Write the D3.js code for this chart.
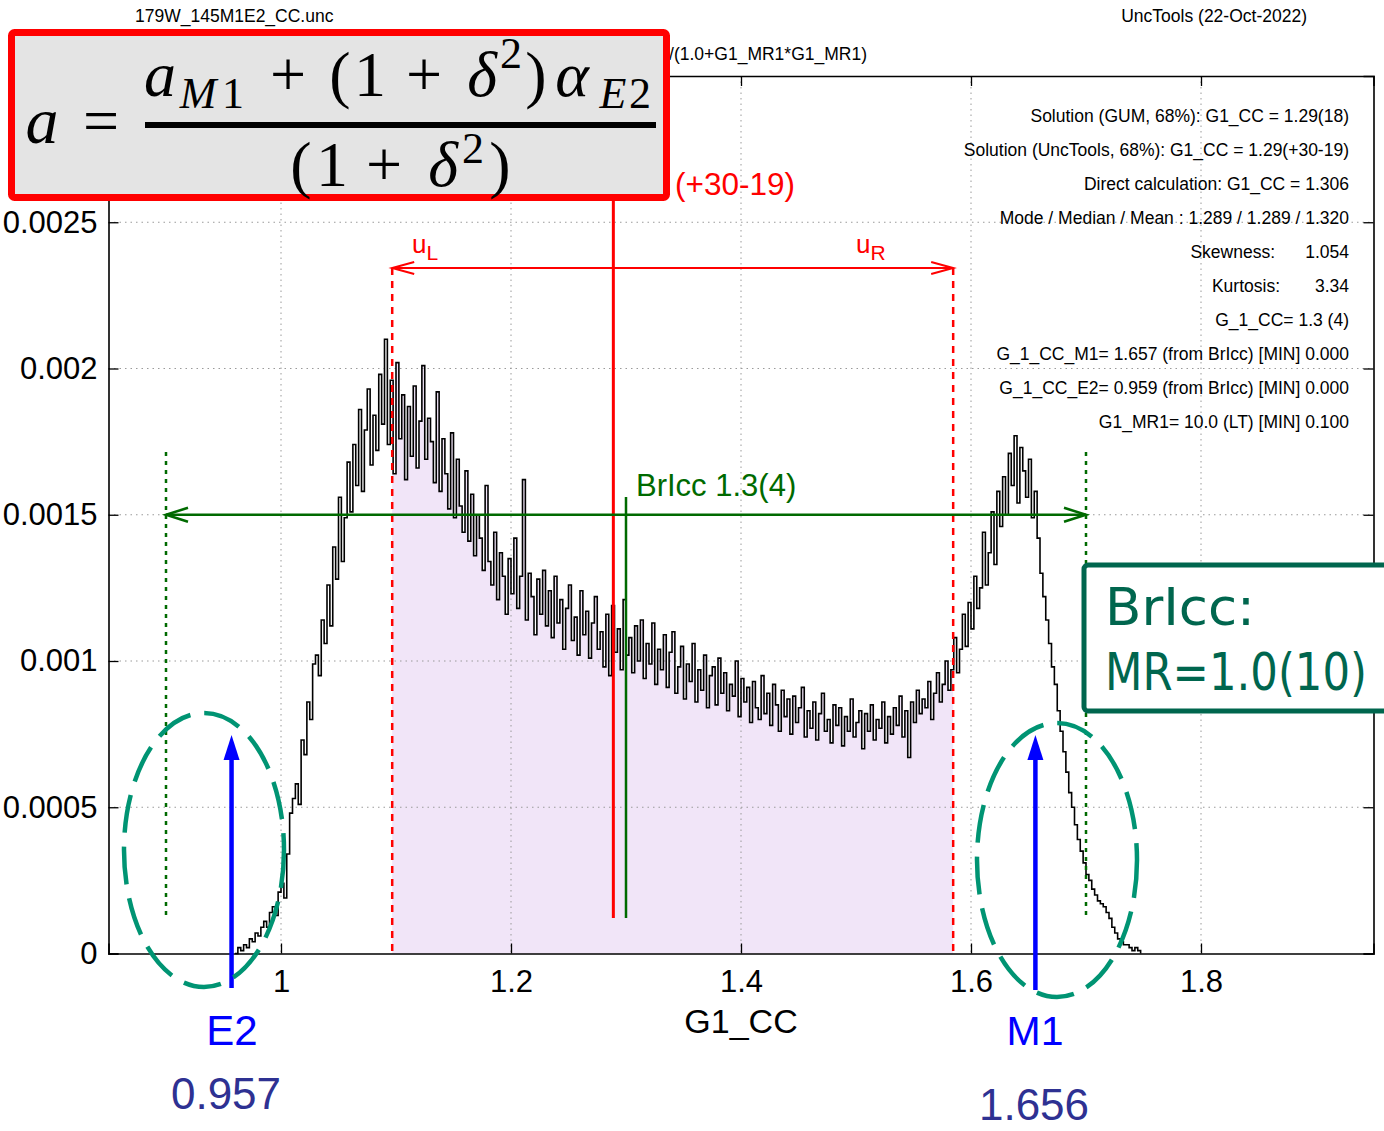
<!DOCTYPE html>
<html>
<head>
<meta charset="utf-8">
<script src="https://cdn.jsdelivr.net/npm/d3@7"></script>
<style>
  body { margin: 0; background: #fff; }
  svg { display: block; }
</style>
</head>
<body>
<script>
// histogram of G1_CC (bin start, bin width, density in units of 1e-4)
var binStart = 0.960;
var binWidth = 0.0025;
var densityUnit = 1e-4;
var density = [
  0.0, 0.2, 0.1, 0.3, 0.2, 0.5, 0.4, 0.7, 0.6, 0.9,
  1.1, 0.9, 1.4, 1.6, 1.3, 2.1, 2.4, 1.9, 3.4, 4.8,
  5.3, 5.8, 5.1, 7.3, 6.8, 8.6, 8.0, 9.9, 10.2, 9.5,
  11.4, 10.6, 12.6, 11.2, 13.9, 12.8, 15.6, 13.4, 14.9, 16.8,
  15.1, 17.4, 16.0, 18.6, 15.8, 17.9, 19.3, 16.7, 18.4, 17.2,
  19.8, 18.1, 21.0, 17.4, 19.6, 16.4, 20.2, 17.6, 19.1, 16.2,
  18.7, 17.0, 19.4, 16.6, 18.2, 20.1, 16.9, 18.3, 17.5, 16.1,
  19.2, 15.8, 17.6, 16.4, 15.2, 17.8, 14.9, 16.9, 15.3, 14.4,
  16.5, 14.1, 15.7, 13.6, 15.0, 14.2, 13.1, 16.0, 13.4, 12.6,
  14.4, 12.1, 13.7, 12.9, 11.6, 13.5, 12.3, 14.2, 11.8, 12.9,
  16.2, 11.4, 13.0, 12.2, 10.9, 12.8, 11.6, 13.1, 11.2, 12.4,
  10.8, 12.9, 11.3, 12.1, 10.4, 11.8, 12.6, 10.7, 11.5, 10.2,
  12.4, 10.9, 11.7, 10.1, 11.3, 12.2, 10.4, 11.0, 9.8, 11.6,
  9.5, 11.9, 10.3, 11.1, 9.7, 12.1, 10.2, 10.8, 9.6, 11.2,
  10.0, 11.4, 9.4, 10.6, 9.9, 11.3, 9.2, 10.4, 9.7, 10.9,
  9.1, 10.3, 11.0, 8.9, 9.8, 10.5, 8.7, 9.9, 9.3, 10.6,
  8.6, 9.7, 9.0, 10.2, 8.4, 9.5, 9.8, 8.5, 10.1, 8.9,
  9.6, 8.3, 9.2, 8.8, 10.0, 8.1, 9.4, 8.6, 9.1, 7.9,
  9.3, 8.4, 8.0, 9.5, 8.2, 8.9, 7.8, 9.2, 8.5, 7.6,
  9.0, 8.1, 8.7, 7.5, 8.8, 7.9, 8.4, 9.1, 7.4, 8.3,
  7.7, 8.6, 7.3, 8.2, 8.9, 7.6, 8.0, 7.2, 8.5, 7.8,
  8.4, 7.1, 8.1, 7.6, 8.7, 7.4, 7.9, 8.3, 7.0, 8.2,
  7.6, 8.5, 7.3, 8.0, 7.7, 8.6, 7.2, 8.1, 7.5, 8.4,
  7.8, 8.8, 7.4, 8.3, 6.7, 8.6, 7.9, 9.0, 8.2, 8.7,
  8.4, 9.3, 8.0, 8.9, 9.6, 8.6, 9.2, 10.0, 9.0, 9.7,
  10.8, 9.6, 10.4, 11.6, 10.5, 12.0, 11.1, 12.9, 11.8, 12.5,
  14.4, 12.6, 13.7, 15.1, 13.3, 15.8, 14.6, 16.3, 15.0, 17.1,
  16.0, 17.7, 15.4, 17.3, 16.5, 15.6, 16.9, 14.9, 15.8, 14.2,
  13.0, 12.2, 11.4, 10.6, 9.8, 9.2, 8.3, 7.6, 6.9, 6.2,
  5.5, 5.0, 4.4, 3.9, 3.5, 3.1, 2.7, 2.5, 2.2, 2.0,
  1.8, 1.7, 1.6, 1.4, 1.2, 0.9, 0.7, 0.5, 0.4, 0.3,
  0.3, 0.2, 0.1, 0.2, 0.1
];

var xTicks = [1, 1.2, 1.4, 1.6, 1.8];
var xTickLabels = ["1", "1.2", "1.4", "1.6", "1.8"];
var yTicks = [0, 0.0005, 0.001, 0.0015, 0.002, 0.0025];
var yTickLabels = ["0", "0.0005", "0.001", "0.0015", "0.002", "0.0025"];

// marker values
var uncLow = 1.0967, uncHigh = 1.5845, modeValue = 1.289;
var briccValue = 1.300, briccLow = 0.9, briccHigh = 1.7;
var e2Value = 0.957, m1Value = 1.656;

var statsLines = [
  "Solution (GUM, 68%): G1_CC = 1.29(18)",
  "Solution (UncTools, 68%): G1_CC = 1.29(+30-19)",
  "Direct calculation: G1_CC = 1.306",
  "Mode / Median / Mean : 1.289 / 1.289 / 1.320",
  ["Skewness:", "1.054"],
  ["Kurtosis:", "3.34"],
  "G_1_CC= 1.3 (4)",
  "G_1_CC_M1= 1.657 (from BrIcc) [MIN] 0.000",
  "G_1_CC_E2= 0.959 (from BrIcc) [MIN] 0.000",
  "G1_MR1= 10.0 (LT) [MIN] 0.100"
];

var svgWidth = 1384, svgHeight = 1131;
var sans = "'Liberation Sans', Arial, sans-serif";
var serif = "'Liberation Serif', 'Times New Roman', serif";
var comic = "'Comic Sans MS', 'DejaVu Sans', sans-serif";

var svg = d3.select("body").append("svg")
    .attr("width", svgWidth)
    .attr("height", svgHeight);

var xScale = d3.scaleLinear().domain([0.85, 1.95]).range([108.5, 1373.5]);
var yScale = d3.scaleLinear().domain([0, 0.003]).range([953.5, 76]);

var bins = density.map(function (v, i) {
    return {x: binStart + i * binWidth, v: v * densityUnit};
});
bins.push({x: binStart + density.length * binWidth, v: 0});

// shaded uncertainty interval
svg.append("clipPath").attr("id", "uncClip")
    .append("rect")
    .attr("x", xScale(uncLow)).attr("y", 0)
    .attr("width", xScale(uncHigh) - xScale(uncLow)).attr("height", svgHeight);

var area = d3.area()
    .x(function (d) { return xScale(d.x); })
    .y0(yScale(0))
    .y1(function (d) { return yScale(d.v); })
    .curve(d3.curveStepAfter);

svg.append("path")
    .datum(bins)
    .attr("clip-path", "url(#uncClip)")
    .attr("d", area)
    .attr("fill", "#f1e5f8");

// grid
var grid = svg.append("g").attr("stroke", "#9a9a9a").attr("stroke-width", 1)
    .attr("stroke-dasharray", "1.5,4");
grid.selectAll(".gx").data(xTicks).enter().append("line")
    .attr("x1", function (d) { return xScale(d); })
    .attr("x2", function (d) { return xScale(d); })
    .attr("y1", yScale.range()[1]).attr("y2", yScale(0));
grid.selectAll(".gy").data(yTicks.slice(1)).enter().append("line")
    .attr("x1", xScale.range()[0]).attr("x2", xScale.range()[1])
    .attr("y1", function (d) { return yScale(d); })
    .attr("y2", function (d) { return yScale(d); });

// axes, gnuplot style (ticks inside, mirrored)
var xAxis = d3.axisBottom(xScale).tickValues(xTicks)
    .tickFormat(function (d, i) { return xTickLabels[i]; })
    .tickSize(-10).tickPadding(16);
var yAxis = d3.axisLeft(yScale).tickValues(yTicks)
    .tickFormat(function (d, i) { return yTickLabels[i]; })
    .tickSize(-10).tickPadding(11);

var gx = svg.append("g").attr("transform", "translate(0," + yScale(0) + ")").call(xAxis);
var gy = svg.append("g").attr("transform", "translate(" + xScale.range()[0] + ",0)").call(yAxis);
svg.append("g").attr("transform", "translate(0," + yScale.range()[1] + ")")
    .call(d3.axisTop(xScale).tickValues(xTicks).tickFormat("").tickSize(-10));
svg.append("g").attr("transform", "translate(" + xScale.range()[1] + ",0)")
    .call(d3.axisRight(yScale).tickValues(yTicks).tickFormat("").tickSize(-10));

svg.selectAll(".domain").attr("stroke", "#000").attr("stroke-width", 1.6);
svg.selectAll(".tick line").attr("stroke", "#000").attr("stroke-width", 1.3);
[gx, gy].forEach(function (g) {
    g.selectAll("text").attr("font-family", sans).attr("font-size", 31).attr("fill", "#000");
});

// histogram
var line = d3.line()
    .x(function (d) { return xScale(d.x); })
    .y(function (d) { return yScale(d.v); })
    .curve(d3.curveStepAfter);
svg.append("path")
    .datum(bins)
    .attr("d", line)
    .attr("fill", "none")
    .attr("stroke", "#000")
    .attr("stroke-width", 1.6);

// header texts
svg.append("text").attr("x", 135).attr("y", 22)
    .attr("font-family", sans).attr("font-size", 17.5).text("179W_145M1E2_CC.unc");
svg.append("text").attr("x", 1307).attr("y", 22).attr("text-anchor", "end")
    .attr("font-family", sans).attr("font-size", 17.5).text("UncTools (22-Oct-2022)");
svg.append("text").attr("x", 867).attr("y", 60).attr("text-anchor", "end")
    .attr("font-family", sans).attr("font-size", 17.5).text("/(1.0+G1_MR1*G1_MR1)");

// stats block
var statsTop = 122, statsStep = 34;
statsLines.forEach(function (s, i) {
    var yy = statsTop + i * statsStep;
    if (Array.isArray(s)) {
        svg.append("text").attr("x", i === 4 ? 1275 : 1280).attr("y", yy).attr("text-anchor", "end")
            .attr("font-family", sans).attr("font-size", 17.5).text(s[0]);
        svg.append("text").attr("x", 1349).attr("y", yy).attr("text-anchor", "end")
            .attr("font-family", sans).attr("font-size", 17.5).text(s[1]);
    } else {
        svg.append("text").attr("x", 1349).attr("y", yy).attr("text-anchor", "end")
            .attr("font-family", sans).attr("font-size", 17.5).text(s);
    }
});

// red uncertainty markers
var red = "#ff0000";
[uncLow, uncHigh].forEach(function (v) {
    svg.append("line")
        .attr("x1", xScale(v)).attr("x2", xScale(v))
        .attr("y1", 268).attr("y2", yScale(0))
        .attr("stroke", red).attr("stroke-width", 2.5).attr("stroke-dasharray", "7,6");
});
var arrowY = 268;
svg.append("line").attr("x1", xScale(uncLow)).attr("x2", xScale(uncHigh))
    .attr("y1", arrowY).attr("y2", arrowY).attr("stroke", red).attr("stroke-width", 2);
svg.append("path")
    .attr("d", "M" + (xScale(uncLow) + 22) + "," + (arrowY - 6) + "L" + xScale(uncLow) + "," + arrowY +
        "L" + (xScale(uncLow) + 22) + "," + (arrowY + 6) +
        "M" + (xScale(uncHigh) - 22) + "," + (arrowY - 6) + "L" + xScale(uncHigh) + "," + arrowY +
        "L" + (xScale(uncHigh) - 22) + "," + (arrowY + 6))
    .attr("fill", "none").attr("stroke", red).attr("stroke-width", 2);

var uL = svg.append("text").attr("x", 412).attr("y", 253).attr("fill", red)
    .attr("font-family", sans).attr("font-size", 26);
uL.append("tspan").text("u");
uL.append("tspan").attr("font-size", 21).attr("dy", 7).text("L");
var uR = svg.append("text").attr("x", 856).attr("y", 253).attr("fill", red)
    .attr("font-family", sans).attr("font-size", 26);
uR.append("tspan").text("u");
uR.append("tspan").attr("font-size", 21).attr("dy", 7).text("R");

svg.append("line").attr("x1", xScale(modeValue)).attr("x2", xScale(modeValue))
    .attr("y1", 190).attr("y2", 918).attr("stroke", red).attr("stroke-width", 3);
svg.append("text").attr("x", 675).attr("y", 195).attr("fill", red)
    .attr("font-family", sans).attr("font-size", 31.5).text("(+30-19)");

// green BrIcc markers
var green = "#006a00";
svg.append("line").attr("x1", xScale(briccValue)).attr("x2", xScale(briccValue))
    .attr("y1", 497).attr("y2", 918).attr("stroke", green).attr("stroke-width", 2.5);
svg.append("text").attr("x", 636).attr("y", 496).attr("fill", green)
    .attr("font-family", sans).attr("font-size", 31).text("BrIcc 1.3(4)");
[briccLow, briccHigh].forEach(function (v) {
    svg.append("line").attr("x1", xScale(v)).attr("x2", xScale(v))
        .attr("y1", 452).attr("y2", 918)
        .attr("stroke", green).attr("stroke-width", 2.5).attr("stroke-dasharray", "4,5");
});
var gY = yScale(0.0015);
svg.append("line").attr("x1", xScale(briccLow)).attr("x2", xScale(briccHigh))
    .attr("y1", gY).attr("y2", gY).attr("stroke", green).attr("stroke-width", 2.5);
svg.append("path")
    .attr("d", "M" + (xScale(briccLow) + 22) + "," + (gY - 7) + "L" + xScale(briccLow) + "," + gY +
        "L" + (xScale(briccLow) + 22) + "," + (gY + 7) +
        "M" + (xScale(briccHigh) - 22) + "," + (gY - 7) + "L" + xScale(briccHigh) + "," + gY +
        "L" + (xScale(briccHigh) - 22) + "," + (gY + 7))
    .attr("fill", "none").attr("stroke", green).attr("stroke-width", 2.5);

// blue arrows for E2 and M1 positions
var blue = "#0000ff";
[[e2Value, 988], [m1Value, 990]].forEach(function (p) {
    var px = xScale(p[0]);
    svg.append("line").attr("x1", px).attr("x2", px).attr("y1", p[1]).attr("y2", 755)
        .attr("stroke", blue).attr("stroke-width", 4.5);
    svg.append("path")
        .attr("d", "M" + (px - 8) + ",760L" + px + ",735L" + (px + 8) + ",760Z")
        .attr("fill", blue);
});

// dashed ellipses
var teal = "#009473";
[[204, 850], [1057, 860]].forEach(function (c) {
    svg.append("ellipse").attr("cx", c[0]).attr("cy", c[1]).attr("rx", 80).attr("ry", 137)
        .attr("fill", "none").attr("stroke", teal).attr("stroke-width", 4.5)
        .attr("stroke-dasharray", "38,14");
});

// bottom labels
svg.append("text").attr("x", xScale(1.4)).attr("y", 1033).attr("text-anchor", "middle")
    .attr("font-family", sans).attr("font-size", 34).text("G1_CC");
svg.append("text").attr("x", 232).attr("y", 1045).attr("text-anchor", "middle")
    .attr("font-family", sans).attr("font-size", 42).attr("fill", blue).text("E2");
svg.append("text").attr("x", 1035).attr("y", 1045).attr("text-anchor", "middle")
    .attr("font-family", sans).attr("font-size", 41).attr("fill", blue).text("M1");
svg.append("text").attr("x", 226).attr("y", 1109).attr("text-anchor", "middle")
    .attr("font-family", sans).attr("font-size", 44).attr("fill", "#2e3192").text("0.957");
svg.append("text").attr("x", 1034).attr("y", 1120).attr("text-anchor", "middle")
    .attr("font-family", sans).attr("font-size", 44).attr("fill", "#2e3192").text("1.656");

// BrIcc mixing ratio box
var boxGreen = "#00664e";
svg.append("rect").attr("x", 1084).attr("y", 565).attr("width", 320).attr("height", 146)
    .attr("rx", 4).attr("fill", "#fff").attr("stroke", boxGreen).attr("stroke-width", 5);
svg.append("text").attr("transform", "translate(1105,625) scale(1,1.18)").attr("fill", boxGreen)
    .attr("font-family", comic).attr("font-size", 44)
    .attr("textLength", 150).attr("lengthAdjust", "spacingAndGlyphs").text("BrIcc:");
svg.append("text").attr("transform", "translate(1105,690) scale(1,1.18)").attr("fill", boxGreen)
    .attr("font-family", comic).attr("font-size", 43)
    .attr("textLength", 262).attr("lengthAdjust", "spacingAndGlyphs").text("MR=1.0(10)");

// formula box
svg.append("rect").attr("x", 11.5).attr("y", 32.5).attr("width", 655).attr("height", 165)
    .attr("rx", 3).attr("fill", "#e4e4e4").attr("stroke", red).attr("stroke-width", 7);

function glyph(ch, cx, base, size, italic) {
    svg.append("text").attr("x", cx).attr("y", base).attr("text-anchor", "middle")
        .attr("font-family", serif).attr("font-size", size)
        .attr("font-style", italic ? "italic" : "normal").text(ch);
}
var big = 64, small = 44;
// a =
glyph("a", 42, 143, big + 2, true);
glyph("=", 101, 142, big, false);
// numerator
glyph("a", 160, 96, big, true);
glyph("M", 198, 108, small, true);
glyph("1", 233, 108, small, false);
glyph("+", 288, 96, big, false);
glyph("(", 340, 96, big, false);
glyph("1", 370, 96, big, false);
glyph("+", 424, 96, big, false);
glyph("\u03b4", 482, 96, big, true);
glyph("2", 511, 68, small, false);
glyph(")", 536, 96, big, false);
glyph("\u03b1", 572, 96, big, true);
glyph("E", 613, 108, small, true);
glyph("2", 640, 108, small, false);
// fraction bar
svg.append("rect").attr("x", 145).attr("y", 122).attr("width", 511).attr("height", 6).attr("fill", "#000");
// denominator
glyph("(", 301, 186, big, false);
glyph("1", 332, 186, big, false);
glyph("+", 384, 186, big, false);
glyph("\u03b4", 443, 186, big, true);
glyph("2", 473, 163, small, false);
glyph(")", 500, 186, big, false);
</script>
</body>
</html>
